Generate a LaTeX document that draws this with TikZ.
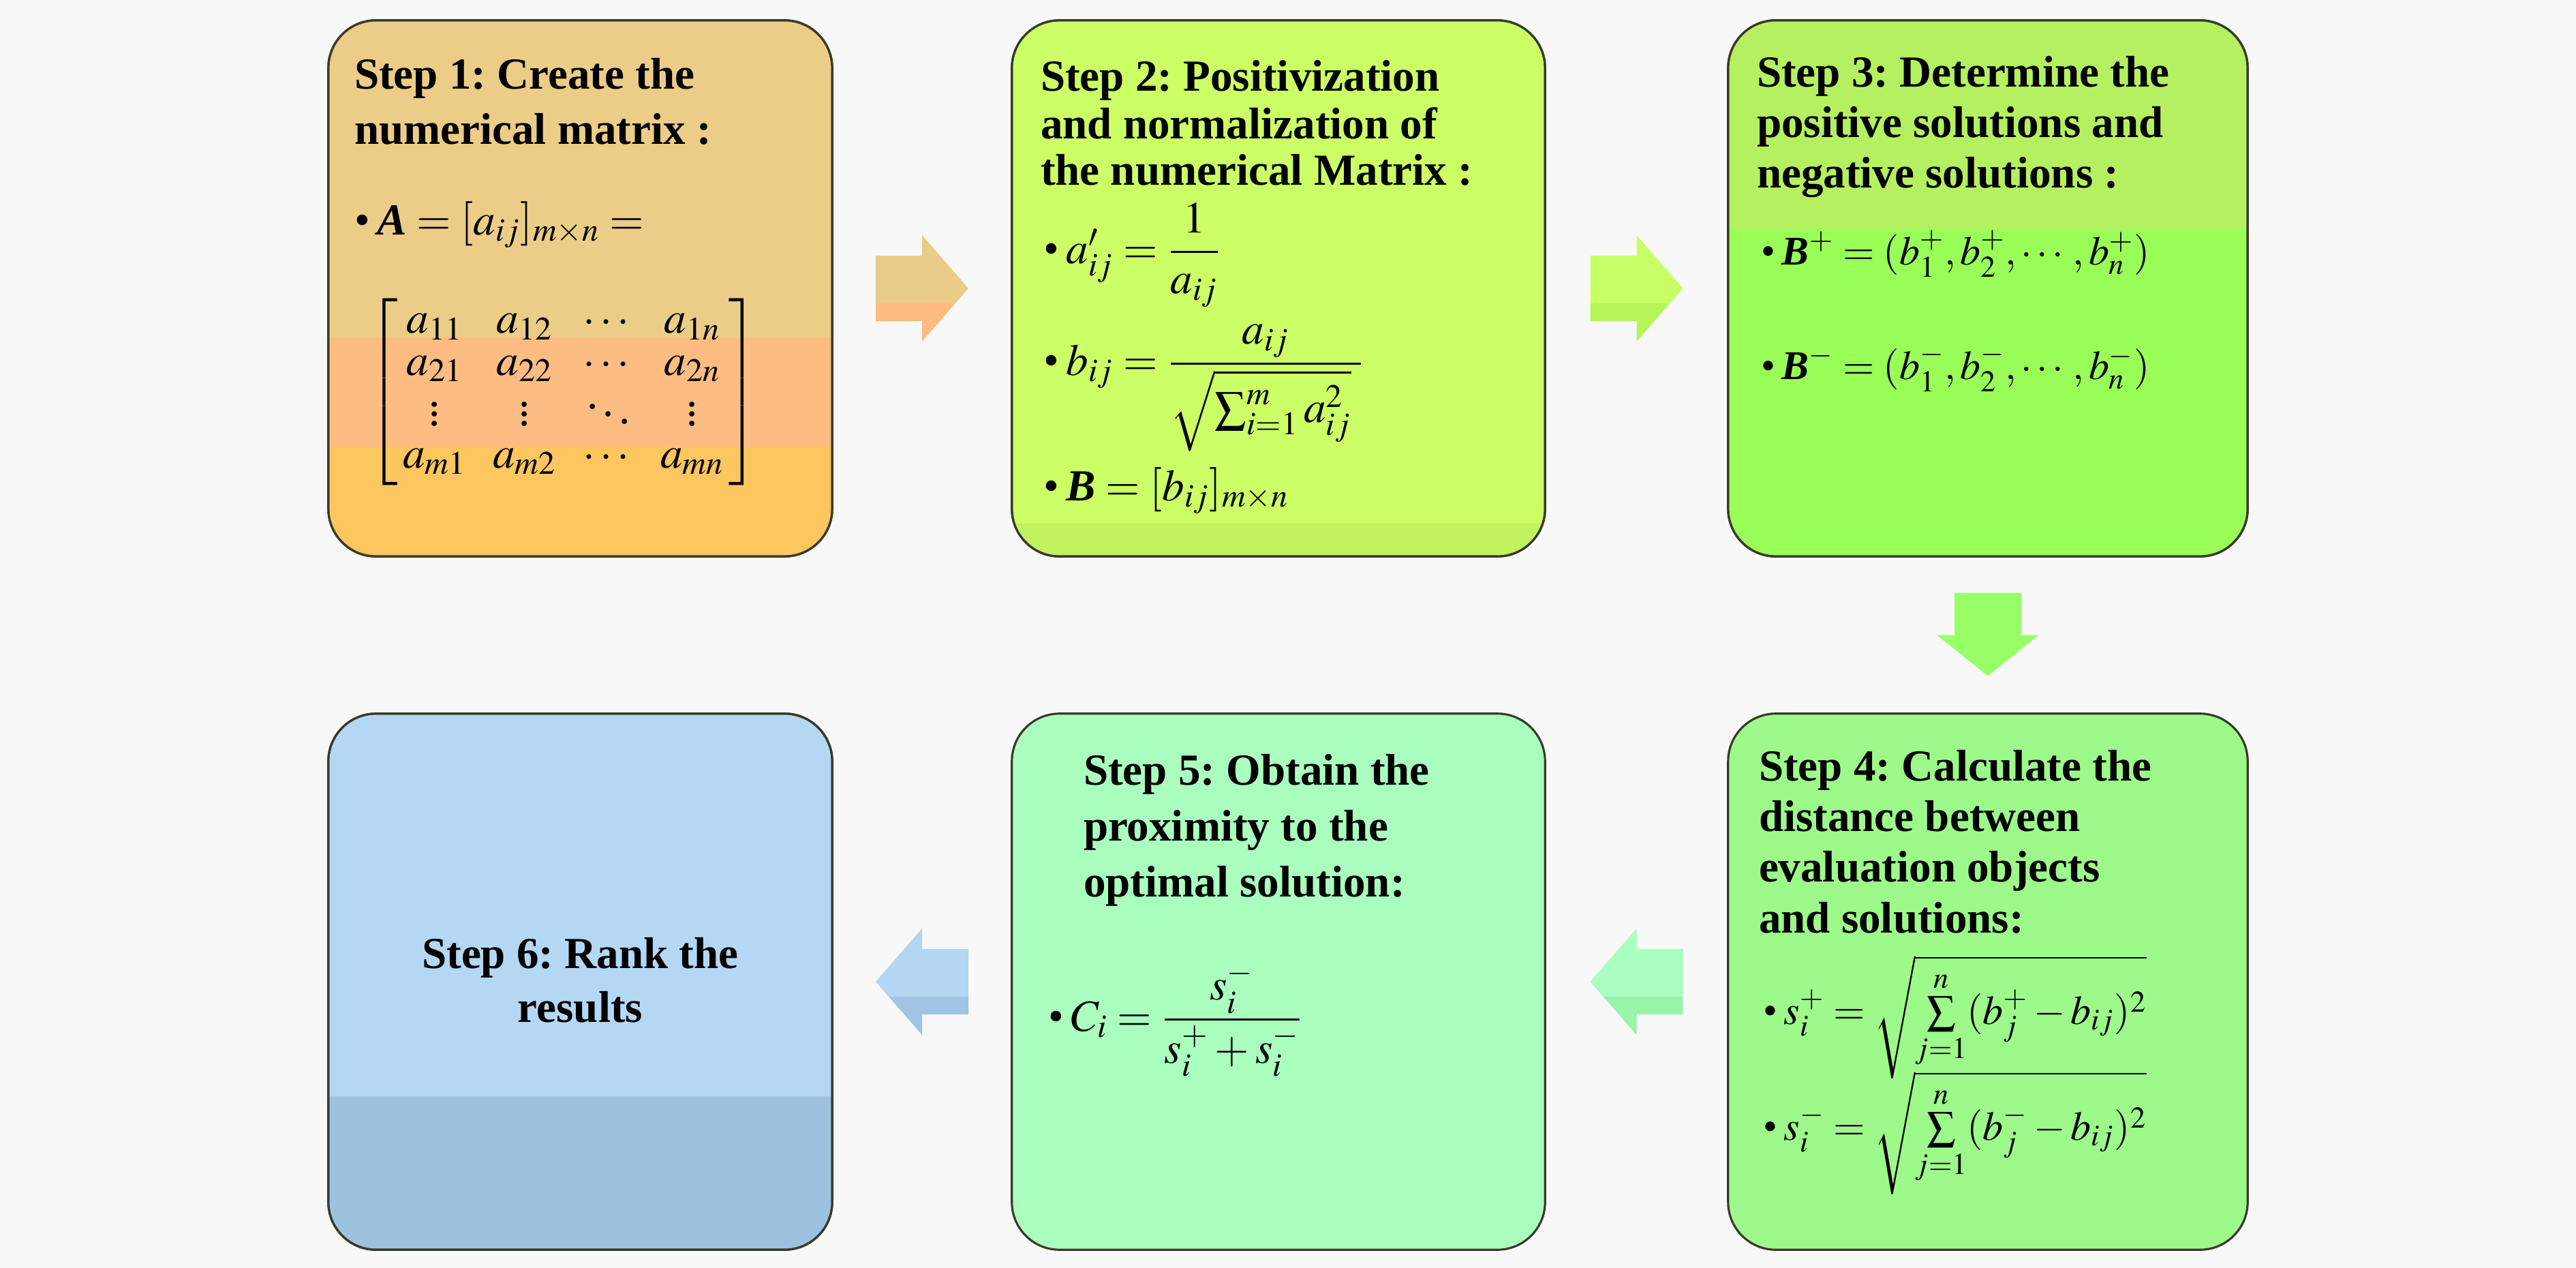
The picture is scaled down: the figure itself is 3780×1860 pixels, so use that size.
\documentclass[tikz,border=0pt]{standalone}
\usepackage{amsmath}
\usepackage{mathptmx}
\usepackage[no-math]{fontspec}
\setmainfont{Liberation Serif}
\usetikzlibrary{calc}
\frenchspacing
\definecolor{bgc}{HTML}{F8F8F8}
\definecolor{edgec}{HTML}{3A3A2A}
\definecolor{oa}{HTML}{EBCD87}
\definecolor{ob}{HTML}{FDBD82}
\definecolor{oc}{HTML}{FDC65E}
\definecolor{la}{HTML}{CCFF66}
\definecolor{lb}{HTML}{C2F25E}
\definecolor{ga}{HTML}{B5F060}
\definecolor{gb}{HTML}{99FF58}
\definecolor{ha}{HTML}{9CF98A}
\definecolor{ma}{HTML}{AAFFBF}
\definecolor{ba}{HTML}{B4D7F3}
\definecolor{bb}{HTML}{9DC2E0}
\definecolor{aoa}{HTML}{EBCB88}
\definecolor{aob}{HTML}{FFBB80}
\definecolor{ala}{HTML}{C8FF66}
\definecolor{alb}{HTML}{B5F55A}
\definecolor{ada}{HTML}{99FF66}
\definecolor{ama}{HTML}{A8FFC0}
\definecolor{amb}{HTML}{98F5AA}
\definecolor{aba}{HTML}{B3D6F2}
\definecolor{abb}{HTML}{A0C4E4}
\newcommand\mybandfill[3]{\fill[#1, sharp corners] ($(path picture bounding box.north west)+(-5,#2)$) rectangle ($(path picture bounding box.north east)+(5,#3)$);}
\newcommand\myharrow[4]{%
  \begin{scope}[shift={(#1)}, xscale=#2, sharp corners]
    \clip (-68,-48) -- (0,-48) -- (0,-78) -- (68,0) -- (0,78) -- (0,48) -- (-68,48) -- cycle;
    \fill[#3] (-80,-90) rectangle (80,22);
    \fill[#4] (-80,22) rectangle (80,90);
  \end{scope}}
\newcommand\bi[1]{\mbox{\bfseries\itshape #1}}
\tikzset{
  stepbox/.style={draw=edgec, line width=0.9pt, rounded corners=0.7cm, inner sep=0pt, outer sep=0pt, minimum height=7.86cm},
  boxline/.style={edgec, line width=0.9pt, rounded corners=0.7cm},
  ttl/.style={anchor=base west, inner sep=0pt, outer sep=0pt, font=\fontsize{18.5}{22}\selectfont\bfseries},
  ttlc/.style={ttl, anchor=base},
  mth/.style={anchor=base west, inner sep=0pt, outer sep=0pt, font=\fontsize{18.5}{22}\selectfont},
  mths/.style={mth, font=\fontsize{17}{20}\selectfont},
}
\begin{document}
\begin{tikzpicture}[x=0.01cm, y=-0.01cm]
\fill[bgc] (0,0) rectangle (3780,1860);
\useasboundingbox (0,0) rectangle (3780,1860);

% boxes
\node[stepbox, minimum width=7.39cm, fill=oa, path picture={\mybandfill{ob}{465}{626}\mybandfill{oc}{626}{900}}] (b1) at (851.5,423) {};
\node[stepbox, minimum width=7.82cm, fill=la, path picture={\mybandfill{lb}{738}{900}}] (b2) at (1876,423) {};
\node[stepbox, minimum width=7.62cm, fill=gb, path picture={\mybandfill{ga}{-10}{306}}] (b3) at (2917,423) {};
\node[stepbox, minimum width=7.62cm, fill=ha] (b4) at (2917,1440) {};
\node[stepbox, minimum width=7.82cm, fill=ma] (b5) at (1876,1440) {};
\node[stepbox, minimum width=7.39cm, fill=ba, path picture={\mybandfill{bb}{561}{900}}] (b6) at (851.5,1440) {};
\draw[boxline] (b1.north west) rectangle (b1.south east);
\draw[boxline] (b2.north west) rectangle (b2.south east);
\draw[boxline] (b3.north west) rectangle (b3.south east);
\draw[boxline] (b6.north west) rectangle (b6.south east);

% connectors (block arrows)
\coordinate (m1) at ($(b1.east)!0.5!(b2.west)$);
\coordinate (m2) at ($(b2.east)!0.5!(b3.west)$);
\coordinate (m3) at ($(b3.south)!0.5!(b4.north)$);
\coordinate (m4) at ($(b4.west)!0.5!(b5.east)$);
\coordinate (m5) at ($(b5.west)!0.5!(b6.east)$);
\myharrow{m1}{1}{aoa}{aob}
\myharrow{m2}{1}{ala}{alb}
\myharrow{m4}{-1}{ama}{amb}
\myharrow{m5}{-1}{aba}{abb}
\begin{scope}[shift={(m3)}]
  \fill[ada] (-49,-62) -- (49,-62) -- (49,0) -- (75,0) -- (0,60) -- (-75,0) -- (-49,0) -- cycle;
\end{scope}

% Step 1
\node[ttl] (t1a) at (520,130) {Step 1: Create the};
\node[ttl] (t1b) at (520,211) {numerical matrix :};
\node[mth] (f1a) at (520,344) {\textbullet\,$\bi{A} = [a_{ij}]_{m\times n} =$};
\node[inner sep=0pt, font=\fontsize{18.5}{17.5}\selectfont] (f1b) at (827,575)
 {$\setlength\arraycolsep{5.5pt}\left[\,\begin{matrix} a_{11} & a_{12} & \cdots & a_{1n}\\ a_{21} & a_{22} & \cdots & a_{2n}\\ \vdots & \vdots & \ddots & \vdots\\ a_{m1} & a_{m2} & \cdots & a_{mn}\end{matrix}\,\right]$};

% Step 2
\node[ttl] (t2a) at (1527,133) {Step 2: Positivization};
\node[ttl] (t2b) at (1527,203) {and normalization of};
\node[ttl] (t2c) at (1527,271) {the numerical Matrix :};
\node[mth] (f2a) at (1531,386) {\textbullet\,$a'_{ij} = \dfrac{1}{a_{ij}}$};
\node[mth] (f2b) at (1531,550) {\textbullet\,$b_{ij} = \dfrac{a_{ij}}{\sqrt{\sum_{i=1}^{m} a_{ij}^{2}}\;}$};
\node[mth] (f2c) at (1531,734) {\textbullet\,$\bi{B} = [b_{ij}]_{m\times n}$};

% Step 3
\node[ttl] (t3a) at (2578,127) {Step 3: Determine the};
\node[ttl] (t3b) at (2578,201) {positive solutions and};
\node[ttl] (t3c) at (2578,275) {negative solutions :};
\node[mths] (f3a) at (2584,388) {\textbullet\,$\bi{B}^{+} = (b_1^{+}, b_2^{+}, \cdots, b_n^{+})$};
\node[mths] (f3b) at (2584,556) {\textbullet\,$\bi{B}^{-} = (b_1^{-}, b_2^{-}, \cdots, b_n^{-})$};

% Step 4
\node[ttl] (t4a) at (2581,1145) {Step 4: Calculate the};
\node[ttl] (t4b) at (2581,1219) {distance between};
\node[ttl] (t4c) at (2581,1293) {evaluation objects};
\node[ttl] (t4d) at (2581,1368) {and solutions:};
\node[mths] (f4a) at (2587,1502) {\textbullet\,$s_i^{+} = \sqrt{\sum\limits_{j=1}^{n}(b_j^{+} - b_{ij})^2}$};
\node[mths] (f4b) at (2587,1672) {\textbullet\,$s_i^{-} = \sqrt{\sum\limits_{j=1}^{n}(b_j^{-} - b_{ij})^2}$};

% Step 5
\node[ttl] (t5a) at (1590,1151) {Step 5: Obtain the};
\node[ttl] (t5b) at (1590,1233) {proximity to the};
\node[ttl] (t5c) at (1590,1315) {optimal solution:};
\node[mth] (f5a) at (1538,1512) {\textbullet\,$C_i = \dfrac{s_i^{-}}{s_i^{+} + s_i^{-}}$};

% Step 6
\node[ttlc] (t6a) at (851.5,1420) {Step 6: Rank the};
\node[ttlc] (t6b) at (851.5,1499) {results};
\end{tikzpicture}
\end{document}
